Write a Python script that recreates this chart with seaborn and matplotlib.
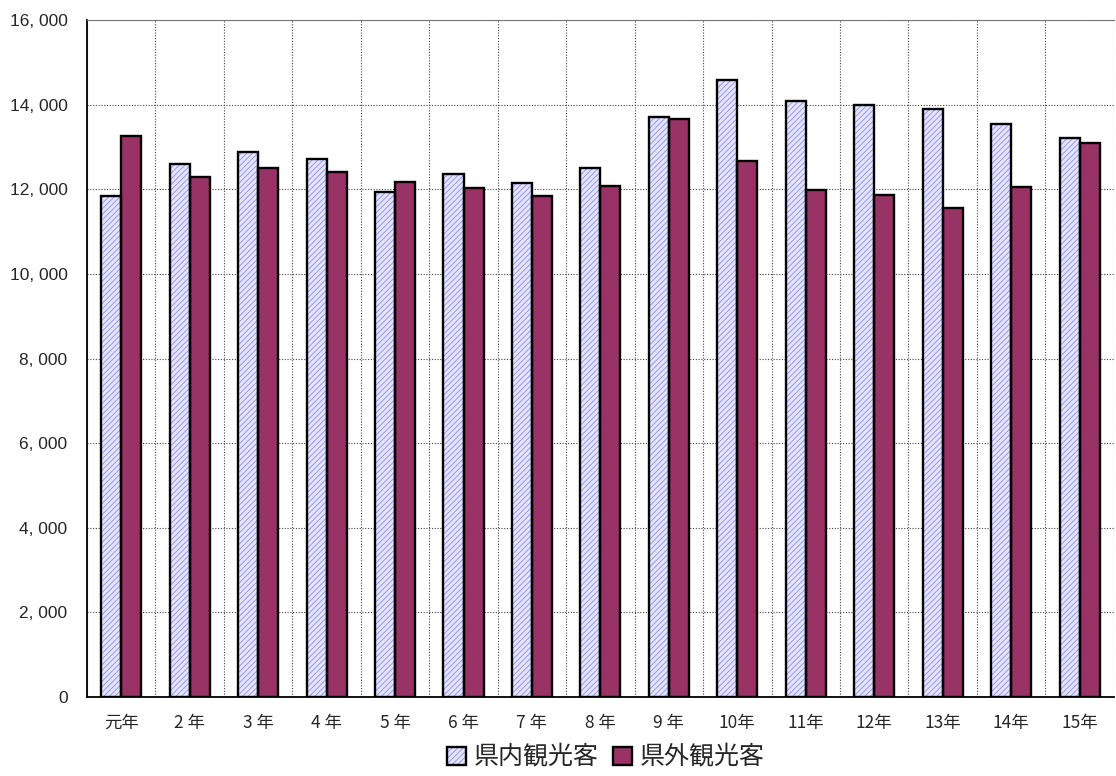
import numpy as np
import pandas as pd
import seaborn as sns
import matplotlib.pyplot as plt
from matplotlib.patches import Rectangle, Patch
from matplotlib.legend_handler import HandlerTuple
from matplotlib.ticker import FuncFormatter

# Data (thousands of visitors)
years = ["元年", "2 年", "3 年", "4 年", "5 年", "6 年", "7 年", "8 年",
         "9 年", "10年", "11年", "12年", "13年", "14年", "15年"]
inside = [11840, 12600, 12890, 12720, 11940, 12370, 12160, 12495,
          13710, 14590, 14095, 14000, 13905, 13550, 13220]
outside = [13260, 12300, 12510, 12415, 12180, 12040, 11840, 12075,
           13670, 12675, 11990, 11875, 11565, 12060, 13085]
series = ["県内観光客", "県外観光客"]

df = pd.DataFrame({
    "year": years * 2,
    "value": inside + outside,
    "type": [series[0]] * len(years) + [series[1]] * len(years),
})

light = "#e4e4ff"
hatch_col = "#8c8cf0"
dark = "#993366"
lw = 1.7

sns.set_style("white")
plt.rcParams["font.family"] = ["Liberation Sans", "Noto Sans CJK JP", "DejaVu Sans"]
plt.rcParams["hatch.linewidth"] = 0.6

fig = plt.figure(figsize=(11.16, 7.76), dpi=100)
ax = fig.add_axes([0.078, 0.102, 0.92, 0.872])

sns.barplot(data=df, x="year", y="value", hue="type", order=years,
            hue_order=series, palette=[light, dark], width=0.585,
            edgecolor="black", linewidth=lw, saturation=1, legend=False, ax=ax)

# hatched light bars: hatch in blue, outline in black on top
for bar in ax.containers[0]:
    bar.set_hatch("//////")
    bar.set_edgecolor(hatch_col)
    bar.set_linewidth(0)
    ax.add_patch(Rectangle(bar.get_xy(), bar.get_width(), bar.get_height(),
                           fill=False, edgecolor="black", linewidth=lw, zorder=3))

ax.set_xlim(-0.5, len(years) - 0.5)
ax.set_ylim(0, 16000)
ax.set_yticks(np.arange(0, 16001, 2000))
ax.yaxis.set_major_formatter(FuncFormatter(lambda v, p: "0" if v == 0 else f"{int(v):,}".replace(",", ", ")))
ax.set_xticks(np.arange(-0.5, len(years), 1), minor=True)

ax.grid(axis="y", which="major", linestyle=(0, (1, 1.5)), color="#444444", linewidth=0.8)
ax.grid(axis="x", which="minor", linestyle=(0, (1, 1.5)), color="#444444", linewidth=0.8)
ax.set_axisbelow(True)

ax.tick_params(axis="y", which="major", direction="in", length=5, labelsize=12.5, pad=14)
ax.tick_params(axis="x", which="major", length=0, pad=12)
ax.tick_params(axis="x", which="minor", direction="out", length=5)
for lab in ax.get_xticklabels():
    lab.set_fontfamily(["Noto Sans CJK JP", "DejaVu Sans"])
    lab.set_fontsize(12.5)

ax.set_xlabel("")
ax.set_ylabel("")
for side in ["left", "bottom"]:
    ax.spines[side].set_color("black")
    ax.spines[side].set_linewidth(1.3)
ax.spines["top"].set_color("#777777")
ax.spines["right"].set_visible(False)

h_in = (Patch(facecolor=light, edgecolor=hatch_col, hatch="//////", linewidth=0),
        Patch(fill=False, edgecolor="black", linewidth=lw))
h_out = Patch(facecolor=dark, edgecolor="black", linewidth=lw)
leg = fig.legend([h_in, h_out], series, loc="center", bbox_to_anchor=(0.543, 0.024),
                 ncol=2, frameon=False, handlelength=0.75, handleheight=0.75,
                 handletextpad=0.3, columnspacing=0.6,
                 handler_map={tuple: HandlerTuple(ndivide=1, pad=0)},
                 prop={"family": ["Noto Sans CJK JP"], "size": 18})

fig.savefig("out.png", dpi=100)
